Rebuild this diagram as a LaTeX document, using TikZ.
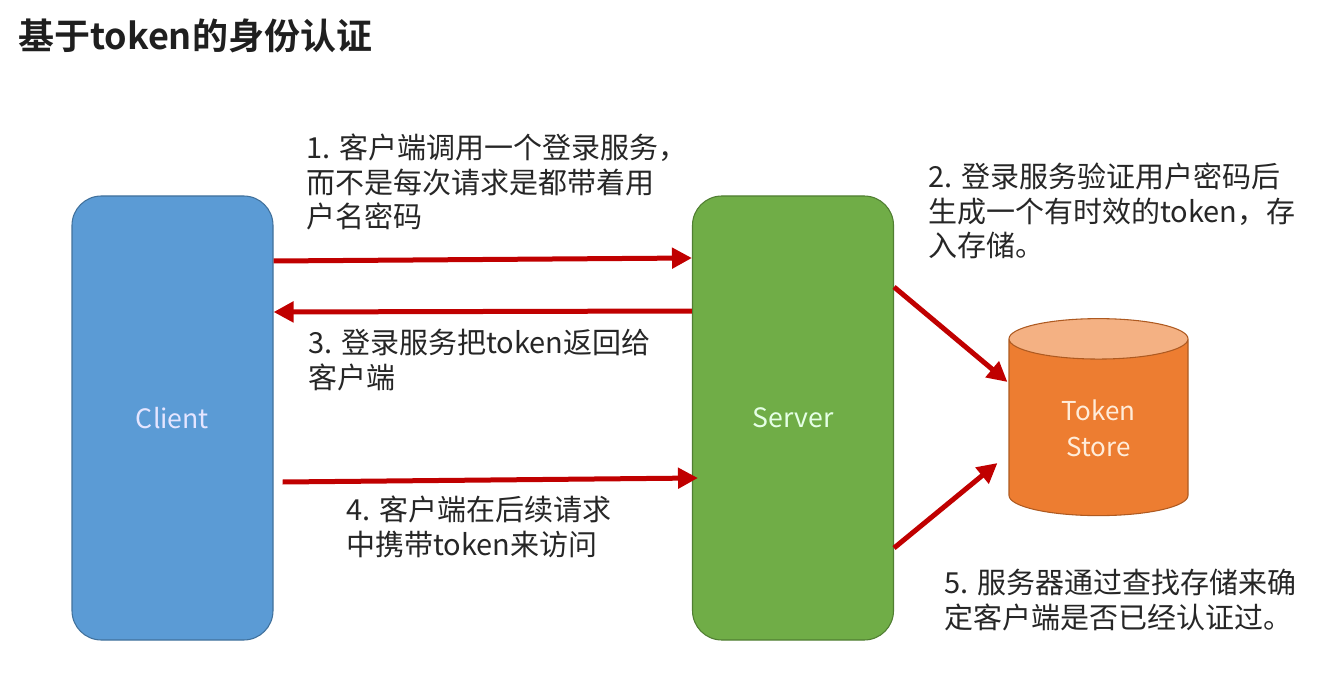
\documentclass[tikz,border=0pt]{standalone}
\usepackage{fontspec}
\setmainfont{Noto Sans CJK SC}[BoldFont={Noto Sans CJK SC Bold}]
\usetikzlibrary{calc,positioning,shapes.geometric,arrows.meta}

\definecolor{clientfill}{HTML}{5B9BD5}
\definecolor{clientline}{HTML}{41719C}
\definecolor{serverfill}{HTML}{70AD47}
\definecolor{serverline}{HTML}{507E32}
\definecolor{storefill}{HTML}{ED7D31}
\definecolor{storetop}{HTML}{F4B183}
\definecolor{storeline}{HTML}{AE5A21}
\definecolor{flowred}{HTML}{C00000}

\begin{document}
\begin{tikzpicture}[x=0.75pt,y=-0.75pt,
  box/.style={draw, line width=0.8pt, rounded corners=22pt,
    minimum width=150.75pt, minimum height=333pt,
    font=\fontsize{20}{24}\selectfont},
  store/.style={cylinder, shape border rotate=90, aspect=0.55,
    draw=storeline, line width=0.8pt, cylinder uses custom fill,
    cylinder body fill=storefill, cylinder end fill=storetop,
    minimum width=134.25pt, minimum height=147.75pt, inner sep=0pt,
    align=center, text=orange!15, text height=44pt, text depth=0pt,
    font=\fontsize{19.5}{27}\selectfont},
  note/.style={anchor=base west, align=left, inner sep=0pt, text=black!85,
    font=\fontsize{21.75}{25.9}\selectfont},
  flow/.style={draw=flowred, line width=3.75pt,
    -{Triangle[length=15pt,width=15pt]}}]
\useasboundingbox (0,0) rectangle (1334,677);

\node[anchor=base west, inner sep=0pt, text=black!88,
  font=\fontsize{27}{32}\selectfont\bfseries] (title) at (18,50) {基于token的身份认证};

% the three parties
\node[box, fill=clientfill, draw=clientline, text=blue!10] (client) at (172.5,418) {Client};
\node[box, fill=serverfill, draw=serverline, text=green!10] (server) at (793,418) {Server};
\node[store] (store) at (1098.5,427.5) {Token\\Store};

% requests and answers
\draw[flow] (client.east |- 0,261) -- (server.west |- 0,258);
\draw[flow] (server.west |- 0,311) -- (client.east |- 0,312);
\draw[flow] ($(client.east |- 0,482)+(9,0)$) -- ($(server.west |- 0,478)+(6,0)$);
\draw[flow] (server.east |- 0,287) -- ($(store.west |- 0,382)+(-1,0)$);
\draw[flow] (server.east |- 0,548) -- ($(store.west |- 0,463)+(-11,0)$);

% anchored at the last line
\node[note] (step1) at (306,228) {1. 客户端调用一个登录服务，\\而不是每次请求是都带着用\\户名密码};
\node[note] (step2) at (928,257) {2. 登录服务验证用户密码后\\生成一个有时效的token，存\\入存储。};
\node[note] (step3) at (308,388) {3. 登录服务把token返回给\\客户端};
\node[note] (step4) at (346,555) {4. 客户端在后续请求\\中携带token来访问};
\node[note] (step5) at (944,628) {5. 服务器通过查找存储来确\\定客户端是否已经认证过。};
\end{tikzpicture}
\end{document}
